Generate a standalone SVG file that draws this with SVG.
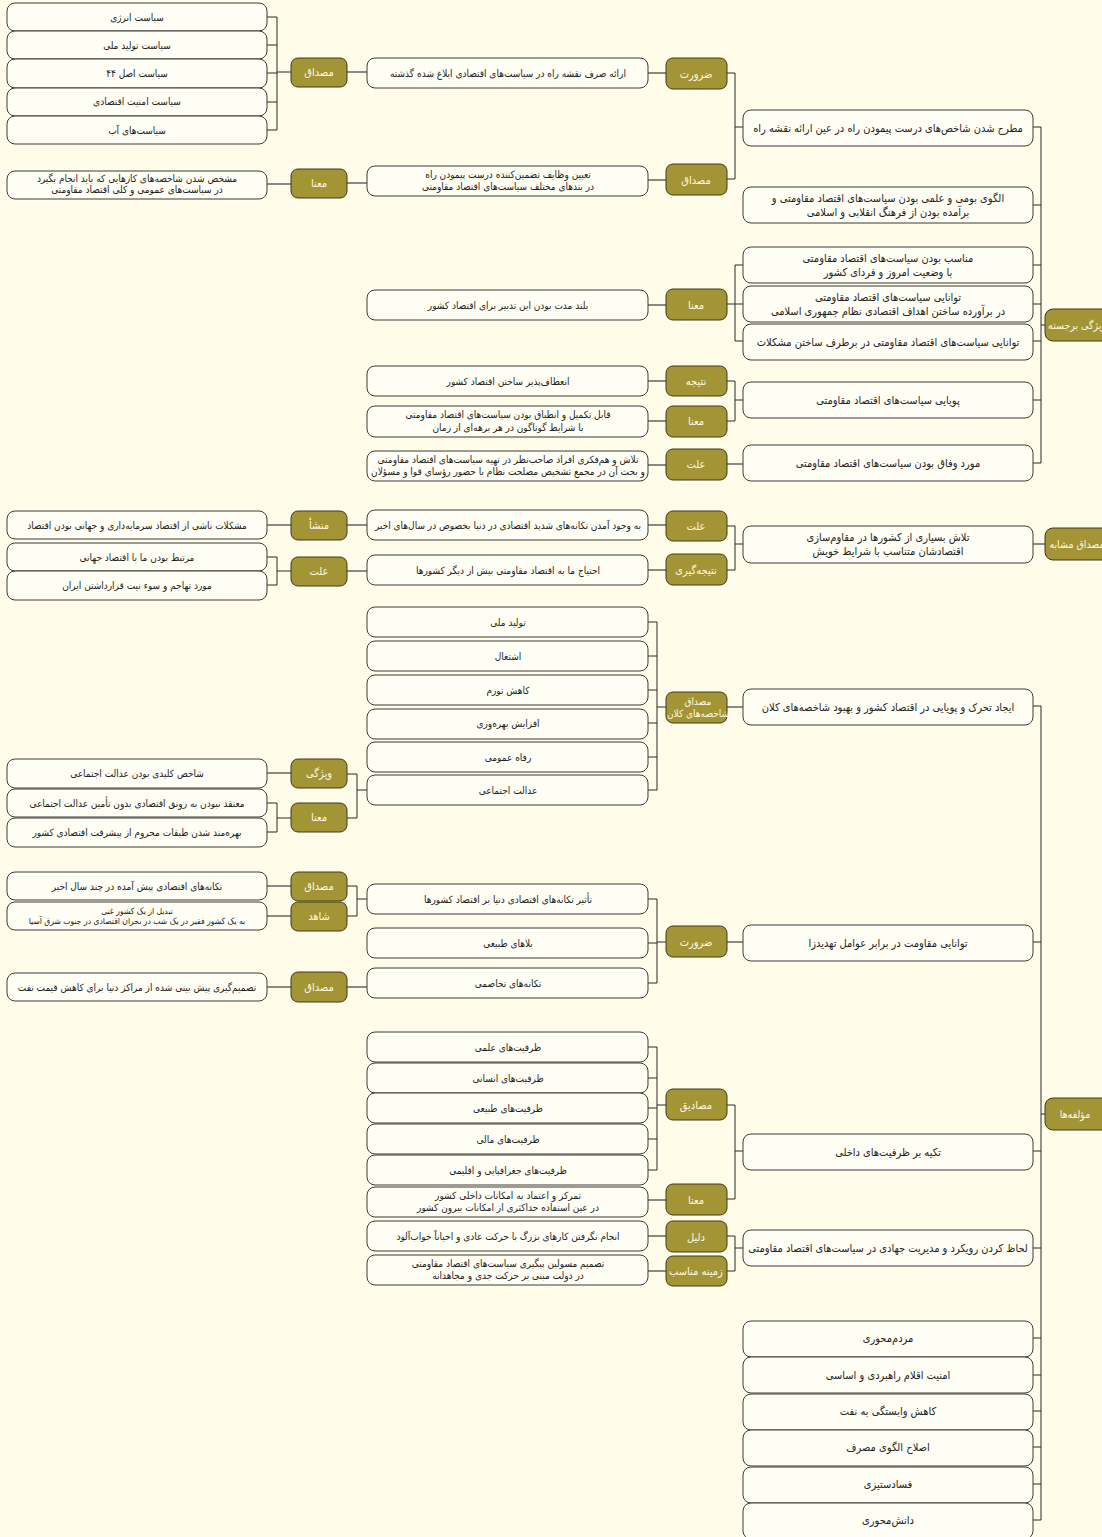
<svg xmlns="http://www.w3.org/2000/svg" width="1102" height="1537" viewBox="0 0 1102 1537">
<style>
.bg{fill:#FFFDEA}
.b{fill:#FFFEF4;stroke:#3a3a3a;stroke-width:1}
.o{fill:#A39536;stroke:#3f3a1a;stroke-width:1}
text{font-family:"DejaVu Sans Condensed","DejaVu Sans",sans-serif;text-anchor:middle;direction:rtl}
.t{font-size:10px;fill:#222}
.t1{font-size:11px;fill:#222}
.s{font-size:10px;fill:#222}
.xs{font-size:8.5px;fill:#222}
.ot{font-size:11px;fill:#FFF9E2}
.rt{font-size:10.5px;fill:#FFF9E2}
.c{stroke:#2a2a2a;stroke-width:1;fill:none}
.g{stroke:#666;stroke-width:1.5;fill:none}
</style>
<rect class="bg" x="0" y="0" width="1102" height="1537"/>

<g id="connectors">
<path class="c" d="M1041,127V463 M1033,127H1041 M1033,205H1041 M1033,265H1041 M1033,304H1041 M1033,341H1041 M1033,400H1041 M1033,463H1041 M1041,325H1045"/>
<path class="g" d="M1033,544H1045"/>
<path class="c" d="M1041,706V1520 M1033,706H1041 M1033,942H1041 M1033,1151H1041 M1033,1248H1041 M1033,1338H1041 M1033,1375H1041 M1033,1411H1041 M1033,1447H1041 M1033,1484H1041 M1033,1520H1041 M1041,1114H1045"/>
<path class="c" d="M735,73V179 M727,73H735 M727,179H735 M735,127H743"/>
<path class="c" d="M735,265V341 M735,265H743 M735,304H743 M735,341H743 M727,304H735"/>
<path class="c" d="M735,381V421 M727,381H735 M727,421H735 M735,400H743"/>
<path class="g" d="M727,464H743"/>
<path class="c" d="M735,526V570 M727,526H735 M727,570H735 M735,544H743"/>
<path class="g" d="M727,707H743 M727,942H743"/>
<path class="c" d="M735,1105V1199 M727,1105H735 M727,1199H735 M735,1151H743"/>
<path class="c" d="M735,1236V1271 M727,1236H735 M727,1271H735 M735,1248H743"/>
<path class="g" d="M648,73H666 M648,180H666 M648,305H666 M648,381H666 M648,421H666 M648,465H666 M648,525H666 M648,570H666 M648,1200H666 M648,1236H666 M648,1271H666"/>
<path class="c" d="M657,622V790 M648,622H657 M648,656H657 M648,690H657 M648,723H657 M648,757H657 M648,790H657 M657,707H666"/>
<path class="c" d="M657,899V983 M648,899H657 M648,943H657 M648,983H657 M657,942H666"/>
<path class="c" d="M657,1047V1170 M648,1047H657 M648,1078H657 M648,1108H657 M648,1139H657 M648,1170H657 M657,1105H666"/>
<path class="g" d="M347,72H367 M347,183H367 M347,525H367 M347,571H367 M347,987H367"/>
<path class="c" d="M357,774V818 M347,774H357 M347,818H357 M357,790H367"/>
<path class="c" d="M357,886V916 M347,886H357 M347,916H357 M357,899H367"/>
<path class="c" d="M277,17V130 M267,17H277 M267,45H277 M267,73H277 M267,102H277 M267,130H277 M277,72H291"/>
<path class="g" d="M267,184H291 M267,525H291 M267,773H291 M267,886H291 M267,916H291 M267,987H291"/>
<path class="c" d="M277,557V585 M267,557H277 M267,585H277 M277,571H291"/>
<path class="c" d="M277,803V832 M267,803H277 M267,832H277 M277,818H291"/>
</g>

<g id="root1"><rect class="o" x="1045" y="309" width="80" height="32" rx="8"/><text class="rt" x="1077" y="329">ویژگی برجسته</text></g>
<g id="root2"><rect class="o" x="1045" y="528" width="80" height="32" rx="8"/><text class="rt" x="1077" y="548">مصداق مشابه</text></g>
<g id="root3"><rect class="o" x="1045" y="1098" width="80" height="32" rx="8"/><text class="rt" x="1075" y="1118">مؤلفه‌ها</text></g>

<g id="A1"><rect class="b" x="743" y="110" width="290" height="36" rx="8"/><text class="t1" x="888" y="132">مطرح شدن شاخص‌های درست پیمودن راه در عین ارائه نقشه راه</text></g>
<g id="A2"><rect class="b" x="743" y="187" width="290" height="36" rx="8"/><text class="t1" x="888" y="202">الگوی بومی و علمی بودن سیاست‌های اقتصاد مقاومتی و</text><text class="t1" x="888" y="216">برآمده بودن از فرهنگ انقلابی و اسلامی</text></g>
<g id="A3"><rect class="b" x="743" y="247" width="290" height="36" rx="8"/><text class="t1" x="888" y="262">مناسب بودن سیاست‌های اقتصاد مقاومتی</text><text class="t1" x="888" y="276">با وضعیت امروز و فردای کشور</text></g>
<g id="A4"><rect class="b" x="743" y="286" width="290" height="36" rx="8"/><text class="t1" x="888" y="301">توانایی سیاست‌های اقتصاد مقاومتی</text><text class="t1" x="888" y="315">در برآورده ساختن اهداف اقتصادی نظام جمهوری اسلامی</text></g>
<g id="A5"><rect class="b" x="743" y="324" width="290" height="36" rx="8"/><text class="t1" x="888" y="346">توانایی سیاست‌های اقتصاد مقاومتی در برطرف ساختن مشکلات</text></g>
<g id="A6"><rect class="b" x="743" y="382" width="290" height="36" rx="8"/><text class="t1" x="888" y="404">پویایی سیاست‌های اقتصاد مقاومتی</text></g>
<g id="A7"><rect class="b" x="743" y="445" width="290" height="36" rx="8"/><text class="t1" x="888" y="467">مورد وفاق بودن سیاست‌های اقتصاد مقاومتی</text></g>
<g id="B1"><rect class="b" x="743" y="526" width="290" height="37" rx="8"/><text class="t1" x="888" y="541">تلاش بسیاری از کشورها در مقاوم‌سازی</text><text class="t1" x="888" y="555">اقتصادشان متناسب با شرایط خویش</text></g>
<g id="C1"><rect class="b" x="743" y="689" width="290" height="36" rx="8"/><text class="t1" x="888" y="711">ایجاد تحرک و پویایی در اقتصاد کشور و بهبود شاخصه‌های کلان</text></g>
<g id="C2"><rect class="b" x="743" y="925" width="290" height="36" rx="8"/><text class="t1" x="888" y="947">توانایی مقاومت در برابر عوامل تهدیدزا</text></g>
<g id="C3"><rect class="b" x="743" y="1134" width="290" height="36" rx="8"/><text class="t1" x="888" y="1156">تکیه بر ظرفیت‌های داخلی</text></g>
<g id="C4"><rect class="b" x="743" y="1230" width="290" height="36" rx="8"/><text class="t1" x="888" y="1252">لحاظ کردن رویکرد و مدیریت جهادی در سیاست‌های اقتصاد مقاومتی</text></g>
<g id="C5"><rect class="b" x="743" y="1321" width="290" height="36" rx="8"/><text class="t1" x="888" y="1342">مردم‌محوری</text></g>
<g id="C6"><rect class="b" x="743" y="1357" width="290" height="36" rx="8"/><text class="t1" x="888" y="1379">امنیت اقلام راهبردی و اساسی</text></g>
<g id="C7"><rect class="b" x="743" y="1394" width="290" height="36" rx="8"/><text class="t1" x="888" y="1415">کاهش وابستگی به نفت</text></g>
<g id="C8"><rect class="b" x="743" y="1430" width="290" height="36" rx="8"/><text class="t1" x="888" y="1451">اصلاح الگوی مصرف</text></g>
<g id="C9"><rect class="b" x="743" y="1467" width="290" height="36" rx="8"/><text class="t1" x="888" y="1488">فسادستیزی</text></g>
<g id="C10"><rect class="b" x="743" y="1503" width="290" height="36" rx="8"/><text class="t1" x="888" y="1524">دانش‌محوری</text></g>

<g id="O1"><rect class="o" x="666" y="58" width="61" height="31" rx="7"/><text class="ot" x="696" y="78">ضرورت</text></g>
<g id="O2"><rect class="o" x="666" y="164" width="61" height="31" rx="7"/><text class="ot" x="696" y="184">مصداق</text></g>
<g id="O3"><rect class="o" x="666" y="289" width="61" height="31" rx="7"/><text class="ot" x="696" y="309">معنا</text></g>
<g id="O4"><rect class="o" x="666" y="366" width="61" height="30" rx="7"/><text class="ot" x="696" y="385">نتیجه</text></g>
<g id="O5"><rect class="o" x="666" y="406" width="61" height="31" rx="7"/><text class="ot" x="696" y="425">معنا</text></g>
<g id="O6"><rect class="o" x="666" y="449" width="61" height="31" rx="7"/><text class="ot" x="696" y="468">علت</text></g>
<g id="O7"><rect class="o" x="666" y="511" width="61" height="30" rx="7"/><text class="ot" x="696" y="530">علت</text></g>
<g id="O8"><rect class="o" x="666" y="554" width="61" height="31" rx="7"/><text class="ot" x="696" y="574">نتیجه‌گیری</text></g>
<g id="O9"><rect class="o" x="666" y="692" width="61" height="31" rx="7"/><text class="ot" style="font-size:10px" x="698" y="705">مصداق</text><text class="ot" style="font-size:10px" x="698" y="717">شاخصه‌های کلان</text></g>
<g id="O10"><rect class="o" x="666" y="926" width="61" height="31" rx="7"/><text class="ot" x="696" y="946">ضرورت</text></g>
<g id="O11"><rect class="o" x="666" y="1089" width="61" height="31" rx="7"/><text class="ot" x="696" y="1109">مصادیق</text></g>
<g id="O12"><rect class="o" x="666" y="1184" width="61" height="31" rx="7"/><text class="ot" x="696" y="1204">معنا</text></g>
<g id="O13"><rect class="o" x="666" y="1221" width="61" height="31" rx="7"/><text class="ot" x="696" y="1241">دلیل</text></g>
<g id="O14"><rect class="o" x="666" y="1256" width="61" height="30" rx="7"/><text class="ot" x="696" y="1275">زمینه مناسب</text></g>

<g id="L1"><rect class="b" x="367" y="58" width="281" height="30" rx="8"/><text class="t" x="508" y="77">ارائه صرف نقشه راه در سیاست‌های اقتصادی ابلاغ شده گذشته</text></g>
<g id="L2"><rect class="b" x="367" y="166" width="281" height="30" rx="8"/><text class="s" x="508" y="178">تعیین وظایف تضمین‌کننده درست پیمودن راه</text><text class="s" x="508" y="190">در بندهای مختلف سیاست‌های اقتصاد مقاومتی</text></g>
<g id="L3"><rect class="b" x="367" y="290" width="281" height="30" rx="8"/><text class="t" x="508" y="309">بلند مدت بودن این تدبیر برای اقتصاد کشور</text></g>
<g id="L4"><rect class="b" x="367" y="366" width="281" height="30" rx="8"/><text class="t" x="508" y="385">انعطاف‌پذیر ساختن اقتصاد کشور</text></g>
<g id="L5"><rect class="b" x="367" y="406" width="281" height="31" rx="8"/><text class="s" x="508" y="418">قابل تکمیل و انطباق بودن سیاست‌های اقتصاد مقاومتی</text><text class="s" x="508" y="431">با شرایط گوناگون در هر برهه‌ای از زمان</text></g>
<g id="L6"><rect class="b" x="367" y="451" width="281" height="30" rx="8"/><text class="s" x="508" y="463">تلاش و هم‌فکری افراد صاحب‌نظر در تهیه سیاست‌های اقتصاد مقاومتی</text><text class="s" x="508" y="475">و بحث آن در مجمع تشخیص مصلحت نظام با حضور رؤسای قوا و مسؤلان</text></g>
<g id="L7"><rect class="b" x="367" y="510" width="281" height="30" rx="8"/><text class="s" x="508" y="529">به وجود آمدن تکانه‌های شدید اقتصادی در دنیا بخصوص در سال‌های اخیر</text></g>
<g id="L8"><rect class="b" x="367" y="555" width="281" height="30" rx="8"/><text class="t" x="508" y="574">احتیاج ما به اقتصاد مقاومتی بیش از دیگر کشورها</text></g>
<g id="L9"><rect class="b" x="367" y="607" width="281" height="30" rx="8"/><text class="t" x="508" y="626">تولید ملی</text></g>
<g id="L10"><rect class="b" x="367" y="641" width="281" height="30" rx="8"/><text class="t" x="508" y="660">اشتغال</text></g>
<g id="L11"><rect class="b" x="367" y="675" width="281" height="30" rx="8"/><text class="t" x="508" y="694">کاهش تورم</text></g>
<g id="L12"><rect class="b" x="367" y="709" width="281" height="30" rx="8"/><text class="t" x="508" y="727">افزایش بهره‌وری</text></g>
<g id="L13"><rect class="b" x="367" y="742" width="281" height="30" rx="8"/><text class="t" x="508" y="761">رفاه عمومی</text></g>
<g id="L14"><rect class="b" x="367" y="775" width="281" height="30" rx="8"/><text class="t" x="508" y="794">عدالت اجتماعی</text></g>
<g id="L15"><rect class="b" x="367" y="884" width="281" height="30" rx="8"/><text class="t" x="508" y="903">تأثیر تکانه‌های اقتصادی دنیا بر اقتصاد کشورها</text></g>
<g id="L16"><rect class="b" x="367" y="928" width="281" height="30" rx="8"/><text class="t" x="508" y="947">بلاهای طبیعی</text></g>
<g id="L17"><rect class="b" x="367" y="968" width="281" height="30" rx="8"/><text class="t" x="508" y="987">تکانه‌های تخاصمی</text></g>
<g id="L18"><rect class="b" x="367" y="1032" width="281" height="30" rx="8"/><text class="t" x="508" y="1051">ظرفیت‌های علمی</text></g>
<g id="L19"><rect class="b" x="367" y="1063" width="281" height="30" rx="8"/><text class="t" x="508" y="1082">ظرفیت‌های انسانی</text></g>
<g id="L20"><rect class="b" x="367" y="1093" width="281" height="30" rx="8"/><text class="t" x="508" y="1112">ظرفیت‌های طبیعی</text></g>
<g id="L21"><rect class="b" x="367" y="1124" width="281" height="30" rx="8"/><text class="t" x="508" y="1143">ظرفیت‌های مالی</text></g>
<g id="L22"><rect class="b" x="367" y="1155" width="281" height="30" rx="8"/><text class="t" x="508" y="1174">ظرفیت‌های جغرافیایی و اقلیمی</text></g>
<g id="L23"><rect class="b" x="367" y="1187" width="281" height="30" rx="8"/><text class="s" x="508" y="1199">تمرکز و اعتماد به امکانات داخلی کشور</text><text class="s" x="508" y="1211">در عین استفاده حداکثری از امکانات بیرون کشور</text></g>
<g id="L24"><rect class="b" x="367" y="1221" width="281" height="30" rx="8"/><text class="t" x="508" y="1240">انجام نگرفتن کارهای بزرگ با حرکت عادی و احیاناً خواب‌آلود</text></g>
<g id="L25"><rect class="b" x="367" y="1255" width="281" height="30" rx="8"/><text class="s" x="508" y="1267">تصمیم مسولین پیگیری سیاست‌های اقتصاد مقاومتی</text><text class="s" x="508" y="1279">در دولت مبنی بر حرکت جدی و مجاهدانه</text></g>

<g id="P1"><rect class="o" x="291" y="58" width="56" height="29" rx="7"/><text class="ot" x="319" y="76">مصداق</text></g>
<g id="P2"><rect class="o" x="291" y="169" width="56" height="29" rx="7"/><text class="ot" x="319" y="187">معنا</text></g>
<g id="P3"><rect class="o" x="291" y="511" width="56" height="29" rx="7"/><text class="ot" x="319" y="529">منشأ</text></g>
<g id="P4"><rect class="o" x="291" y="557" width="56" height="29" rx="7"/><text class="ot" x="319" y="575">علت</text></g>
<g id="P5"><rect class="o" x="291" y="759" width="56" height="29" rx="7"/><text class="ot" x="319" y="777">ویژگی</text></g>
<g id="P6"><rect class="o" x="291" y="803" width="56" height="29" rx="7"/><text class="ot" x="319" y="821">معنا</text></g>
<g id="P7"><rect class="o" x="291" y="872" width="56" height="29" rx="7"/><text class="ot" x="319" y="890">مصداق</text></g>
<g id="P8"><rect class="o" x="291" y="902" width="56" height="29" rx="7"/><text class="ot" x="319" y="920">شاهد</text></g>
<g id="P9"><rect class="o" x="291" y="972" width="56" height="30" rx="7"/><text class="ot" x="319" y="991">مصداق</text></g>

<g id="Q1"><rect class="b" x="7" y="3" width="260" height="28" rx="8"/><text class="t" x="137" y="21">سیاست انرژی</text></g>
<g id="Q2"><rect class="b" x="7" y="31" width="260" height="28" rx="8"/><text class="t" x="137" y="49">سیاست تولید ملی</text></g>
<g id="Q3"><rect class="b" x="7" y="59" width="260" height="29" rx="8"/><text class="t" x="137" y="77">سیاست اصل ۴۴</text></g>
<g id="Q4"><rect class="b" x="7" y="88" width="260" height="28" rx="8"/><text class="t" x="137" y="105">سیاست امنیت اقتصادی</text></g>
<g id="Q5"><rect class="b" x="7" y="116" width="260" height="28" rx="8"/><text class="t" x="137" y="134">سیاست‌های آب</text></g>
<g id="Q6"><rect class="b" x="7" y="171" width="260" height="28" rx="8"/><text class="s" x="137" y="182">مشخص شدن شاخصه‌های کارهایی که باید انجام بگیرد</text><text class="s" x="137" y="193">در سیاست‌های عمومی و کلی اقتصاد مقاومتی</text></g>
<g id="Q7"><rect class="b" x="7" y="511" width="260" height="28" rx="8"/><text class="t" x="137" y="529">مشکلات ناشی از اقتصاد سرمایه‌داری و جهانی بودن اقتصاد</text></g>
<g id="Q8"><rect class="b" x="7" y="543" width="260" height="28" rx="8"/><text class="t" x="137" y="561">مرتبط بودن ما با اقتصاد جهانی</text></g>
<g id="Q9"><rect class="b" x="7" y="571" width="260" height="29" rx="8"/><text class="t" x="137" y="589">مورد تهاجم و سوء نیت قرارداشتن ایران</text></g>
<g id="Q10"><rect class="b" x="7" y="759" width="260" height="29" rx="8"/><text class="t" x="137" y="777">شاخص کلیدی بودن عدالت اجتماعی</text></g>
<g id="Q11"><rect class="b" x="7" y="789" width="260" height="28" rx="8"/><text class="t" x="137" y="807">معتقد نبودن به رونق اقتصادی بدون تأمین عدالت اجتماعی</text></g>
<g id="Q12"><rect class="b" x="7" y="818" width="260" height="29" rx="8"/><text class="t" x="137" y="836">بهره‌مند شدن طبقات محروم از پیشرفت اقتصادی کشور</text></g>
<g id="Q13"><rect class="b" x="7" y="872" width="260" height="28" rx="8"/><text class="t" x="137" y="890">تکانه‌های اقتصادی پیش آمده در چند سال اخیر</text></g>
<g id="Q14"><rect class="b" x="7" y="902" width="260" height="28" rx="8"/><text class="xs" x="137" y="914">تبدیل از یک کشور غنی</text><text class="xs" x="137" y="924">به یک کشور فقیر در یک شب در بحران اقتصادی در جنوب شرق آسیا</text></g>
<g id="Q15"><rect class="b" x="7" y="973" width="260" height="28" rx="8"/><text class="t" x="137" y="991">تصمیم‌گیری پیش بینی شده از مراکز دنیا برای کاهش قیمت نفت</text></g>
</svg>
